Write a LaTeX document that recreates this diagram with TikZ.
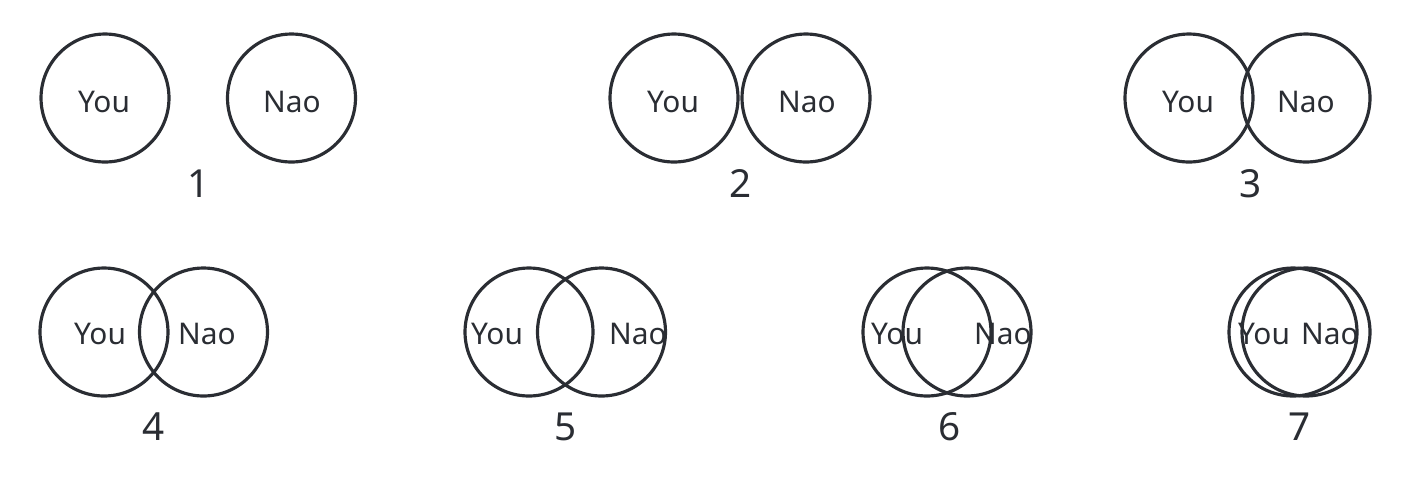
\documentclass[tikz,border=0pt]{standalone}
\usepackage{fontspec}
\setmainfont{Noto Sans}
\usepackage{tikz}
\usetikzlibrary{positioning}

\definecolor{inkgray}{RGB}{42,45,51}

\begin{document}
\begin{tikzpicture}[x=0.02cm,y=-0.02cm]

% Define styles for the circles and labels
\tikzstyle{ring} = [circle, draw=inkgray, line width=1.8pt, minimum size=2.56cm, inner sep=0pt]
\tikzstyle{who} = [anchor=base, text=inkgray, inner sep=0pt, font=\fontsize{17}{17}\selectfont]
\tikzstyle{stage} = [anchor=base, text=inkgray, inner sep=0pt, font=\fontsize{22}{22}\selectfont]

\useasboundingbox (0,0) rectangle (1407,485);

% Draw the circles, first row
\node (you1) [ring] at (105,98) {};
\node (nao1) [ring] at (291.5,98) {};
\node (you2) [ring] at (674,98) {};
\node (nao2) [ring] at (806,98) {};
\node (you3) [ring] at (1189,98) {};
\node (nao3) [ring] at (1306,98) {};

% Draw the circles, second row
\node (you4) [ring] at (104,332) {};
\node (nao4) [ring] at (203.5,332) {};
\node (you5) [ring] at (529,332) {};
\node (nao5) [ring] at (601.5,332) {};
\node (you6) [ring] at (927,332) {};
\node (nao6) [ring] at (967,332) {};
\node (you7) [ring] at (1293,332) {};
\node (nao7) [ring] at (1306,332) {};

% Add the names
\node (youtxt1) [who] at (104,112) {You};
\node (naotxt1) [who] at (292,112) {Nao};
\node (youtxt2) [who] at (673,112) {You};
\node (naotxt2) [who] at (807,112) {Nao};
\node (youtxt3) [who] at (1188,112) {You};
\node (naotxt3) [who] at (1306,112) {Nao};
\node (youtxt4) [who] at (100,344) {You};
\node (naotxt4) [who] at (207,344) {Nao};
\node (youtxt5) [who] at (497,344) {You};
\node (naotxt5) [who] at (638,344) {Nao};
\node (youtxt6) [who] at (897,344) {You};
\node (naotxt6) [who] at (1003,344) {Nao};
\node (youtxt7) [who] at (1264,344) {You};
\node (naotxt7) [who] at (1330,344) {Nao};

% Add the stage numbers
\node (num1) [stage] at (199,197) {1};
\node (num2) [stage] at (741,197) {2};
\node (num3) [stage] at (1251,197) {3};
\node (num4) [stage] at (154,440) {4};
\node (num5) [stage] at (566,440) {5};
\node (num6) [stage] at (950,440) {6};
\node (num7) [stage] at (1300,440) {7};
\end{tikzpicture}
\end{document}
